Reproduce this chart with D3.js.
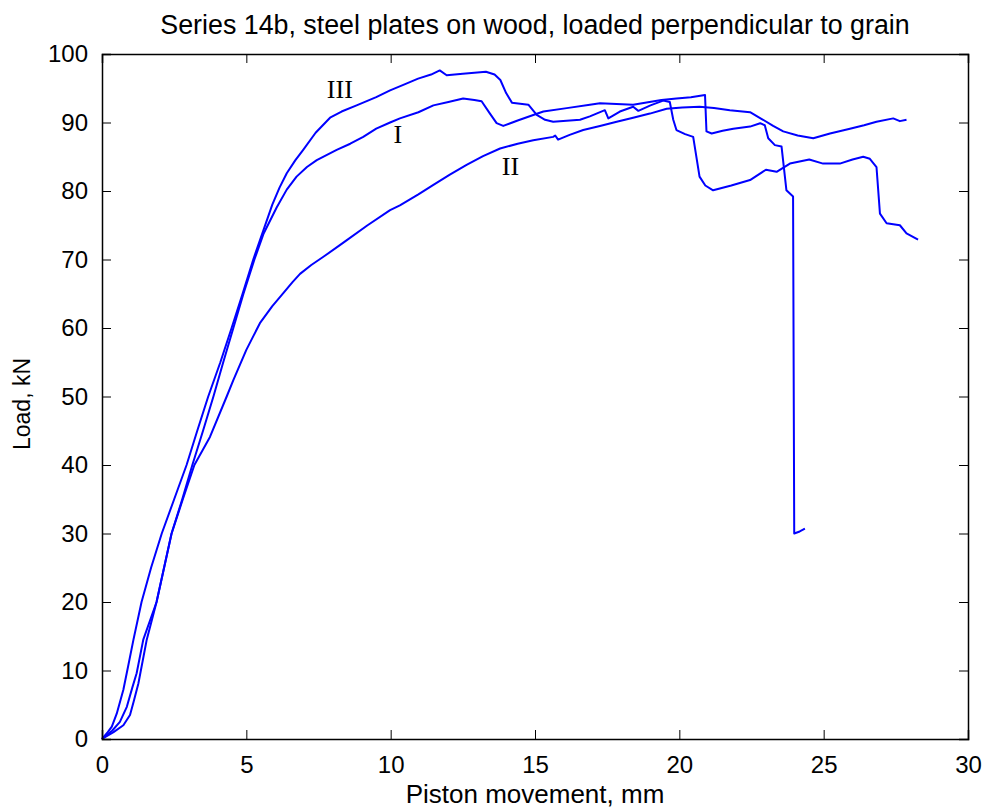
<!DOCTYPE html>
<html>
<head>
<meta charset="utf-8">
<script src="https://cdn.jsdelivr.net/npm/d3@7/dist/d3.min.js"></script>
<style>
  body { margin: 0; background: #fff; }
  svg text { font-family: "Liberation Sans", Arial, Helvetica, sans-serif; fill: #000; }
  .lbl { font-family: "Liberation Serif", "Times New Roman", serif; }
</style>
</head>
<body>
<div id="chart"></div>
<script>
// Lastkurven, Serie 14b (x: Kolbenweg mm, y: Last kN)
const seriesI = [
  [0,0],[0.35,1.2],[0.62,2.5],[0.86,4.7],[1.05,7.5],[1.2,9.6],[1.43,14.5],[1.89,20],[2.41,30],
  [2.78,35],[3.13,40],[3.5,45],[3.86,50],[4.2,55],[4.55,60],[4.9,65],[5.28,70],[5.6,73.8],
  [6.05,77.6],[6.4,80.2],[6.74,82.1],[7.1,83.5],[7.44,84.5],[8.13,86.0],[8.6,86.9],[9.05,87.9],
  [9.5,89.1],[9.98,90.0],[10.32,90.6],[10.96,91.5],[11.48,92.5],[12.0,93.0],[12.51,93.5],
  [12.9,93.3],[13.15,93.1],[13.44,91.3],[13.67,89.9],[13.9,89.5],[14.4,90.3],[14.94,91.1],
  [15.29,91.6],[16.1,92.1],[16.9,92.6],[17.25,92.8],[18.4,92.6],[19.38,93.3],[19.9,93.5],
  [20.4,93.7],[20.89,94.0],[20.94,88.7],[21.12,88.4],[21.5,88.8],[21.87,89.1],[22.45,89.4],
  [22.8,89.9],[22.96,89.6],[23.08,87.7],[23.31,86.7],[23.54,86.5],[23.71,80.1],[23.94,79.2],
  [23.98,30.0],[24.17,30.3],[24.35,30.7]
];
const seriesII = [
  [0,0],[0.4,1.0],[0.74,2],[0.97,3.5],[1.1,5.5],[1.26,8.1],[1.55,14.5],[1.89,20],[2.41,30],
  [2.8,35],[3.2,40],[3.74,44.1],[4.32,50],[4.55,52.4],[5.0,56.8],[5.47,60.7],[5.9,63.2],
  [6.28,65.1],[6.6,66.7],[6.86,67.9],[7.25,69.2],[7.67,70.4],[8.24,72.1],[8.47,72.8],
  [9.2,75.0],[9.98,77.2],[10.32,77.9],[10.96,79.5],[11.48,80.9],[12.05,82.4],[12.63,83.8],
  [13.2,85.1],[13.79,86.2],[14.4,86.9],[14.94,87.4],[15.63,87.9],[15.7,88.1],[15.8,87.5],
  [16.2,88.2],[16.67,88.9],[17.25,89.5],[17.83,90.1],[18.4,90.7],[18.98,91.3],[19.56,92.0],
  [20.1,92.2],[20.7,92.3],[21.2,92.1],[21.75,91.8],[22.45,91.5],[22.9,90.4],[23.25,89.5],
  [23.6,88.7],[24.1,88.1],[24.64,87.7],[25.22,88.4],[25.91,89.1],[26.4,89.6],[26.83,90.1],
  [27.41,90.6],[27.64,90.2],[27.87,90.4]
];
const seriesIII = [
  [0,0],[0.2,1.0],[0.34,1.8],[0.51,3.7],[0.74,7.2],[0.9,10.5],[1.09,14.5],[1.37,20],[1.7,25],
  [2.07,30],[2.5,35],[2.93,40],[3.3,45],[3.68,50],[4.1,55],[4.49,60],[4.87,65],[5.24,70],
  [5.47,72.8],[5.9,78],[6.15,80.5],[6.4,82.6],[6.7,84.5],[6.97,86],[7.4,88.5],[7.9,90.7],
  [8.3,91.6],[8.82,92.5],[9.5,93.7],[9.98,94.7],[10.5,95.6],[10.95,96.4],[11.4,97.0],
  [11.7,97.6],[11.94,96.9],[12.5,97.1],[13.3,97.4],[13.6,97.0],[13.8,96.2],[14.0,94.3],
  [14.2,92.9],[14.77,92.6],[15.06,91.1],[15.35,90.4],[15.63,90.1],[16.56,90.4],[16.9,90.9],
  [17.42,91.8],[17.54,90.6],[17.94,91.6],[18.4,92.3],[18.58,91.7],[19.0,92.5],[19.44,93.2],
  [19.67,93.0],[19.79,90.4],[19.9,88.9],[20.2,88.3],[20.48,87.9],[20.7,82.1],[20.9,80.8],
  [21.17,80.1],[21.8,80.8],[22.45,81.6],[23.0,83.1],[23.37,82.8],[23.83,84.0],[24.5,84.6],
  [24.98,84.0],[25.56,84.0],[26.0,84.6],[26.37,85.0],[26.6,84.7],[26.83,83.5],[26.95,76.7],
  [27.18,75.3],[27.64,75.0],[27.87,73.8],[28.27,72.9]
];
const curveLabels = [
  { text: "III", x: 8.24, y: 93.6 },
  { text: "I", x: 10.25, y: 87.0 },
  { text: "II", x: 14.15, y: 82.3 }
];
const xTicks = [0, 5, 10, 15, 20, 25, 30];
const yTicks = [0, 10, 20, 30, 40, 50, 60, 70, 80, 90, 100];

const W = 991, H = 811, m = { l: 102, r: 23, t: 54, b: 72 };
const x = d3.scaleLinear().domain([0, 30]).range([m.l, W - m.r]);
const y = d3.scaleLinear().domain([0, 100]).range([H - m.b, m.t]);

const svg = d3.select("#chart").append("svg").attr("width", W).attr("height", H);

// Kurven
const line = d3.line().x(d => x(d[0])).y(d => y(d[1]));
svg.append("g").selectAll("path").data([seriesI, seriesII, seriesIII]).join("path")
  .attr("d", line).attr("fill", "none").attr("stroke", "#0000ff")
  .attr("stroke-width", 2).attr("stroke-linejoin", "round");

// Achsen, Ticks nach innen auf allen Seiten
const tk = 9;
const axB = svg.append("g").attr("transform", `translate(0,${H - m.b})`)
  .call(d3.axisBottom(x).tickValues(xTicks).tickSize(-tk).tickPadding(tk + 8).tickFormat(d3.format("d")));
const axT = svg.append("g").attr("transform", `translate(0,${m.t})`)
  .call(d3.axisTop(x).tickValues(xTicks).tickSize(-tk).tickFormat(""));
const axL = svg.append("g").attr("transform", `translate(${m.l},0)`)
  .call(d3.axisLeft(y).tickValues(yTicks).tickSize(-tk).tickPadding(tk + 5).tickFormat(d3.format("d")));
const axR = svg.append("g").attr("transform", `translate(${W - m.r},0)`)
  .call(d3.axisRight(y).tickValues(yTicks).tickSize(-tk).tickFormat(""));
[axB, axT, axL, axR].forEach(g => {
  g.attr("font-size", 24);
  g.select(".domain").attr("stroke", "#000").attr("stroke-width", 1.5);
  g.selectAll(".tick line").attr("stroke", "#000").attr("stroke-width", 1);
  g.selectAll(".tick text").attr("font-size", 24).attr("fill", "#000")
    .style("font-family", '"Liberation Sans", Arial, sans-serif');
});

// Beschriftungen
svg.append("text").attr("x", (m.l + W - m.r) / 2).attr("y", 34).attr("text-anchor", "middle")
  .attr("font-size", 26.8).text("Series 14b, steel plates on wood, loaded perpendicular to grain");
svg.append("text").attr("x", (m.l + W - m.r) / 2).attr("y", 803).attr("text-anchor", "middle")
  .attr("font-size", 26).text("Piston movement, mm");
svg.append("text").attr("transform", `translate(30,404) rotate(-90)`)
  .attr("text-anchor", "middle").attr("font-size", 23).text("Load, kN");

svg.append("g").selectAll("text").data(curveLabels).join("text")
  .attr("class", "lbl").attr("x", d => x(d.x)).attr("y", d => y(d.y))
  .attr("text-anchor", "middle").attr("font-size", 26).text(d => d.text);
</script>
</body>
</html>
